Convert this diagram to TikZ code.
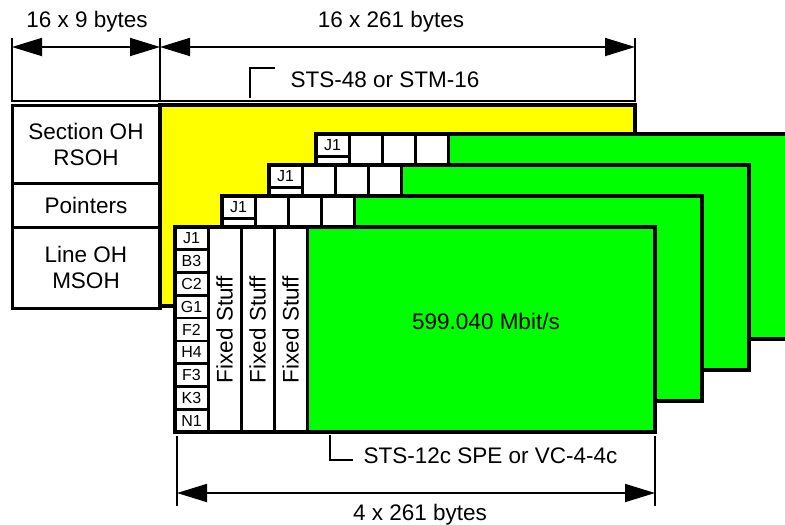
\documentclass[tikz,border=0pt]{standalone}
\usepackage{fontspec}
\setmainfont{Liberation Sans}
\usepackage{graphicx}
\usetikzlibrary{arrows.meta}

\definecolor{stmyellow}{RGB}{255,255,0}
\definecolor{spegreen}{RGB}{0,255,0}

\tikzset{
  bigtext/.style={font=\fontsize{22.5}{26}\selectfont},
  ohbox/.style={draw, line width=3pt, fill=white, minimum width=148pt, inner sep=0pt, outer sep=0pt, anchor=north west, align=center, bigtext},
  pohbox/.style={draw, line width=2.6pt, fill=white, minimum width=33pt, minimum height=22.78pt, inner sep=0pt, outer sep=0pt, anchor=north west, font=\fontsize{16}{16}\selectfont},
  fixbox/.style={draw, line width=3pt, fill=white, minimum width=33pt, minimum height=205pt, inner sep=0pt, outer sep=0pt, anchor=north west, bigtext},
  payload/.style={draw, line width=3pt, fill=spegreen, minimum width=348pt, minimum height=205pt, inner sep=0pt, outer sep=0pt, anchor=north west},
  frame/.style={draw, line width=3.6pt},
  dimline/.style={line width=1.8pt, {Triangle[length=30pt,width=18pt]}-{Triangle[length=30pt,width=18pt]}},
  extline/.style={line width=1.8pt},
}

\begin{document}
\begin{tikzpicture}[x=1pt, y=-1pt]
  \useasboundingbox (0,0) rectangle (785,525);
  \clip (0,0) rectangle (785,525);

  % widths of the STM-16 frame
  \coordinate (d0) at (12,47);
  \coordinate (d1) at (160,47);
  \coordinate (d2) at (635,47);
  \draw[extline] (12,38) -- (12,101) -- (635,101) -- (635,38);
  \draw[extline] (160,38) -- (160,101);
  \draw[dimline] (d0) -- (d1);
  \draw[dimline] (d1) -- (d2);
  \node[bigtext, anchor=base] (tohw) at (87,27) {16 x 9 bytes};
  \node[bigtext, anchor=base] (payw) at (391,27) {16 x 261 bytes};

  % transport overhead and STM-16 payload
  \node[ohbox, minimum height=78pt] (rsoh) at (12,105) {Section OH\\RSOH};
  \node[ohbox, minimum height=44pt] (ptr) at (rsoh.south west) {Pointers};
  \node[ohbox, minimum height=81pt] (msoh) at (ptr.south west) {Line OH\\MSOH};
  \node[draw, line width=3.6pt, fill=stmyellow, minimum width=475pt, minimum height=201pt,
        inner sep=0pt, outer sep=0pt, anchor=north west] (stm) at (rsoh.north east) {};
  \draw[extline] (250,98) -- (250,68) -- (275,68);
  \node[bigtext, anchor=base west] (stmlab) at (287,87) {STS-48 or STM-16};

  % four STS-12c SPEs, back to front
  \foreach \k in {3,2,1,0} {
    \pgfmathsetmacro\lx{175+47*\k}
    \pgfmathsetmacro\ty{227-31*\k}
    \node[payload] (spe\k) at (\lx+132,\ty) {};
    \foreach \b [count=\i from 0] in {J1,B3,C2,G1,F2,H4,F3,K3,N1}
      \node[pohbox] (poh\k-\i) at (\lx,\ty+22.78*\i) {\ifnum\k=0 \b\else\ifnum\i=0 \b\fi\fi};
    \foreach \c in {1,2,3}
      \node[fixbox] (fix\k-\c) at (\lx+33*\c,\ty) {\ifnum\k=0 \rotatebox{90}{Fixed Stuff}\fi};
    \draw[frame] (poh\k-0.north west) rectangle (spe\k.south east);
  }
  \node[bigtext, anchor=base] (rate) at (486,329) {599.040 Mbit/s};

  \draw[extline] (330,435) -- (330,460) -- (353,460);
  \node[bigtext, anchor=base west] (spelab) at (360,463) {STS-12c SPE or VC-4-4c};

  % width of one SPE
  \coordinate (b0) at (177,493);
  \coordinate (b1) at (655,493);
  \draw[extline] (177,436) -- (177,506);
  \draw[extline] (655,436) -- (655,506);
  \draw[dimline] (b0) -- (b1);
  \node[bigtext, anchor=base] (spew) at (420,520) {4 x 261 bytes};
\end{tikzpicture}
\end{document}
